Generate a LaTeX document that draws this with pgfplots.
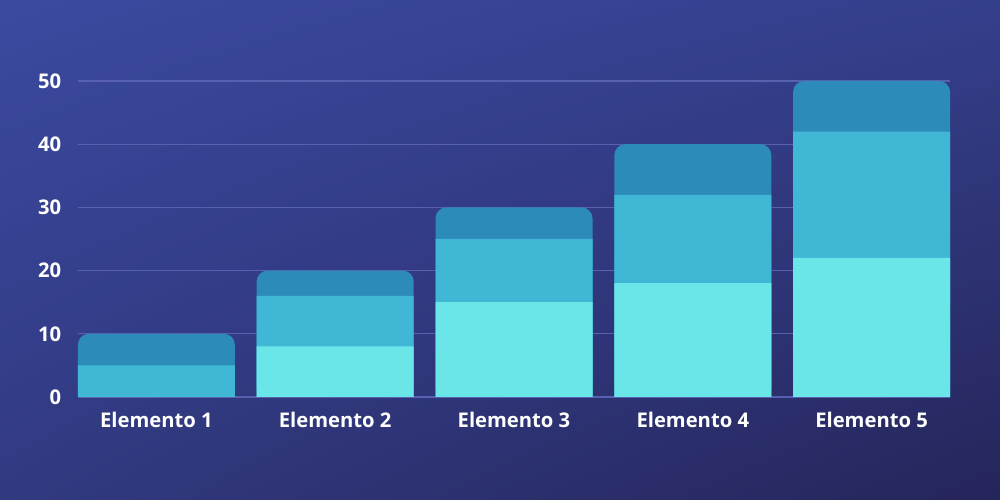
\documentclass[border=0pt]{standalone}
\usepackage{pgfplots}
\pgfplotsset{compat=1.18}
\usetikzlibrary{shadings}
\usepackage{fontspec}
\setmainfont{Open Sans}
\definecolor{bgA}{HTML}{3B4AA0}
\definecolor{bgB}{HTML}{25255A}
\definecolor{cTop}{HTML}{2D8BBA}
\definecolor{cMid}{HTML}{40B8D5}
\definecolor{cLow}{HTML}{6BE6E8}
\definecolor{gridc}{HTML}{5860B0}
\begin{document}
\begin{tikzpicture}
  % background, 1000x500 px at 0.02cm per px
  \shade[upper left=bgA, upper right=bgA!70!bgB, lower left=bgA!55!bgB, lower right=bgB]
    (0,0) rectangle (20cm,10cm);
  \begin{axis}[
    at={(1.56cm,2.06cm)}, anchor=south west,
    scale only axis,
    width=17.44cm, height=6.32cm,
    xmin=-0.4385, xmax=4.4385,
    ymin=0, ymax=50,
    axis line style={draw=none},
    ytick={0,10,20,30,40,50},
    xtick=data,
    xticklabels={Elemento 1, Elemento 2, Elemento 3, Elemento 4, Elemento 5},
    major tick length=0pt,
    ymajorgrids,
    grid style={gridc, line width=0.7pt},
    /pgf/number format/assume math mode=true,
    tick label style={font=\fontsize{11.5}{13}\selectfont\bfseries, text=white},
    yticklabel style={xshift=-6pt},
    xticklabel style={yshift=-5pt},
    ybar, bar width=3.14cm, bar shift=0pt,
    clip=false,
  ]
    % totals (top segment), rounded top
    \addplot[draw=none, fill=cTop, rounded corners=0.22cm] coordinates {
      (0,10) (1,20) (2,30) (3,40) (4,50)};
    % bottom + middle
    \addplot[draw=none, fill=cMid] coordinates {
      (0,5) (1,16) (2,25) (3,32) (4,42)};
    % bottom
    \addplot[draw=none, fill=cLow] coordinates {
      (0,0) (1,8) (2,15) (3,18) (4,22)};
  \end{axis}
\end{tikzpicture}
\end{document}
